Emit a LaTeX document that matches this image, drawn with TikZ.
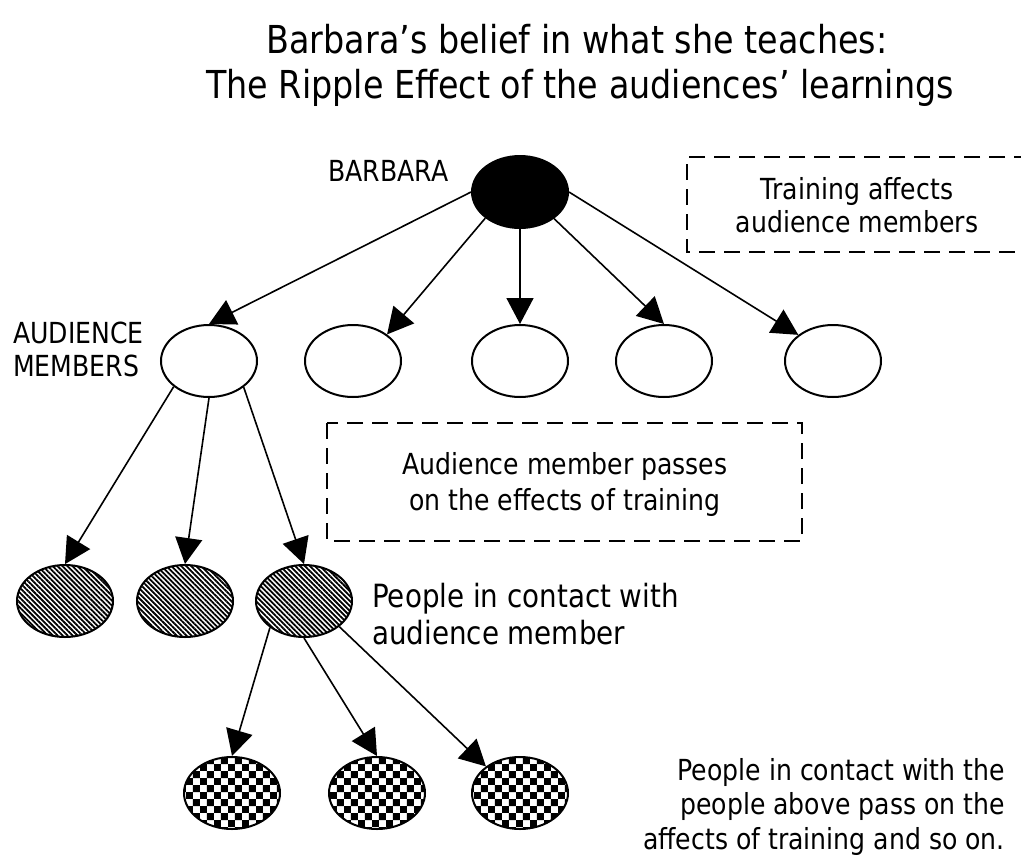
\documentclass[tikz,border=0pt]{standalone}
\usepackage{fontspec}
\setmainfont{DejaVu Sans}[FakeStretch=0.867]
\usetikzlibrary{shapes.geometric,arrows.meta,patterns,patterns.meta}

\pgfdeclarepatternformonly{checker}{\pgfqpoint{0pt}{0pt}}{\pgfqpoint{14.4pt}{14.4pt}}{\pgfqpoint{14.4pt}{14.4pt}}{%
  \pgfpathrectangle{\pgfqpoint{0pt}{0pt}}{\pgfqpoint{7.2pt}{7.2pt}}%
  \pgfpathrectangle{\pgfqpoint{7.2pt}{7.2pt}}{\pgfqpoint{7.2pt}{7.2pt}}%
  \pgfusepath{fill}}

\tikzset{
  ell/.style={ellipse, draw, line width=2pt, minimum width=96pt, minimum height=72pt, inner sep=0pt},
  solidell/.style={ell, fill=black},
  plainell/.style={ell, fill=white},
  hatchell/.style={ell, pattern={Lines[angle=-45,distance=3.5pt,line width=1.8pt]}},
  checkell/.style={ell, pattern=checker},
  arr/.style={line width=1.6pt, -{Triangle[length=26pt,width=27pt]}},
  notebox/.style={line width=2.3pt, dash pattern=on 16pt off 9pt},
  txt/.style={font=\fontsize{29}{35}\selectfont, inner sep=0pt},
  bigtxt/.style={font=\fontsize{32}{37}\selectfont, inner sep=0pt},
  ttl/.style={font=\fontsize{38.5}{45}\selectfont, inner sep=0pt, anchor=base},
}

\begin{document}
\begin{tikzpicture}[x=1pt,y=-1pt]
\useasboundingbox (0,0) rectangle (1021,855);

% title
\node[ttl] (title1) at (577,53) {Barbara’s belief in what she teaches:};
\node[ttl] (title2) at (580,98) {The Ripple Effect of the audiences’ learnings};

% dashed note boxes
\draw[notebox] (1030,157) -- (687,157) -- (687,252) -- (1030,252);
\node[txt, anchor=base] (n1a) at (857,199) {Training affects};
\node[txt, anchor=base] (n1b) at (857,232) {audience members};

\draw[notebox] (327,423) rectangle (802,541);
\node[txt, anchor=base] (n2a) at (565,474) {Audience member passes};
\node[txt, anchor=base] (n2b) at (565,510) {on the effects of training};

% level 1
\node[solidell] (b) at (520,192) {};
\node[txt, anchor=base west] (lb) at (328,181) {BARBARA};

% level 2
\node[plainell] (a1) at (209,361) {};
\node[plainell] (a2) at (353,361) {};
\node[plainell] (a3) at (520,361) {};
\node[plainell] (a4) at (664,361) {};
\node[plainell] (a5) at (833,361) {};
\node[txt, anchor=base west] (la1) at (13,343) {AUDIENCE};
\node[txt, anchor=base west] (la2) at (13,376) {MEMBERS};

% level 3
\node[hatchell] (h1) at (65,601) {};
\node[hatchell] (h2) at (185,601) {};
\node[hatchell] (h3) at (304,601) {};
\node[bigtxt, anchor=base west] (lh1) at (372,607) {People in contact with};
\node[bigtxt, anchor=base west] (lh2) at (372,644) {audience member};

% level 4
\node[checkell] (c1) at (232,793) {};
\node[checkell] (c2) at (377,793) {};
\node[checkell] (c3) at (520,793) {};
\node[txt, anchor=base east] (lc1) at (1005,780) {People in contact with the};
\node[txt, anchor=base east] (lc2) at (1005,814.5) {people above pass on the};
\node[txt, anchor=base east] (lc3) at (1005,849) {affects of training and so on.};

% connectors
\draw[arr] (b.west) -- (a1.north);
\draw[arr] (b.217) -- (a2.38);
\draw[arr] (b.south) -- (a3.north);
\draw[arr] (b.322) -- (a4.north);
\draw[arr] (b.east) -- (a5.143);

\draw[arr] (a1.216) -- (h1.north);
\draw[arr] (a1.south) -- (h2.north);
\draw[arr] (a1.323) -- (h3.north);

\draw[arr] (h3.218) -- (c1.north);
\draw[arr] (h3.south) -- (c2.north);
\draw[arr] (h3.324) -- (c3.142);
\end{tikzpicture}
\end{document}
